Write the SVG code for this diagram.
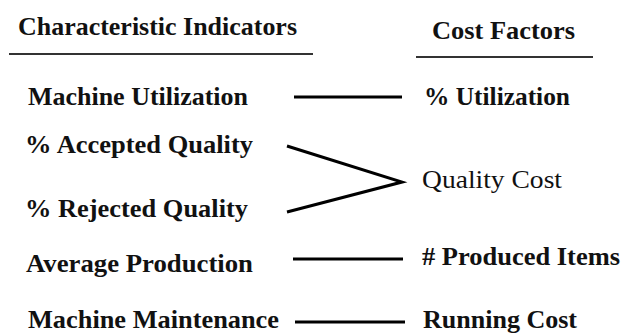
<svg xmlns="http://www.w3.org/2000/svg" width="626" height="334" viewBox="0 0 626 334">
<style>
text{font-family:"Liberation Serif","Times New Roman",serif;font-weight:bold;font-size:26px;fill:#111;}
text.r{font-weight:normal;}
.u{stroke:#333;stroke-width:2;}
.c{stroke:#000;stroke-width:3;fill:none;}
</style>
<rect width="626" height="334" fill="#fff"/>
<g id="headers">
<text x="18" y="35" textLength="279" lengthAdjust="spacingAndGlyphs">Characteristic Indicators</text>
<line class="u" x1="9" y1="54" x2="313" y2="54"/>
<text x="432" y="39" textLength="143" lengthAdjust="spacingAndGlyphs">Cost Factors</text>
<line class="u" x1="416" y1="57" x2="593" y2="57"/>
</g>
<g id="n-machine-utilization"><text x="28" y="105" textLength="220" lengthAdjust="spacingAndGlyphs">Machine Utilization</text></g>
<g id="n-accepted"><text x="25" y="153" textLength="228" lengthAdjust="spacingAndGlyphs">% Accepted Quality</text></g>
<g id="n-rejected"><text x="25" y="217" textLength="223" lengthAdjust="spacingAndGlyphs">% Rejected Quality</text></g>
<g id="n-average"><text x="26" y="272" textLength="227" lengthAdjust="spacingAndGlyphs">Average Production</text></g>
<g id="n-maintenance"><text x="28" y="328" textLength="251" lengthAdjust="spacingAndGlyphs">Machine Maintenance</text></g>
<g id="n-utilization"><text x="424" y="105" textLength="146" lengthAdjust="spacingAndGlyphs">% Utilization</text></g>
<g id="n-quality-cost"><text class="r" x="422" y="188" textLength="140" lengthAdjust="spacingAndGlyphs">Quality Cost</text></g>
<g id="n-produced"><text x="422" y="265" textLength="198" lengthAdjust="spacingAndGlyphs"># Produced Items</text></g>
<g id="n-running"><text x="423" y="328" textLength="154" lengthAdjust="spacingAndGlyphs">Running Cost</text></g>
<g id="connectors">
<line class="c" x1="294" y1="97" x2="402" y2="97"/>
<polyline class="c" points="287,146 402,182 287,212"/>
<line class="c" x1="293" y1="259" x2="403" y2="259"/>
<line class="c" x1="295" y1="322" x2="405" y2="322"/>
</g>
</svg>
